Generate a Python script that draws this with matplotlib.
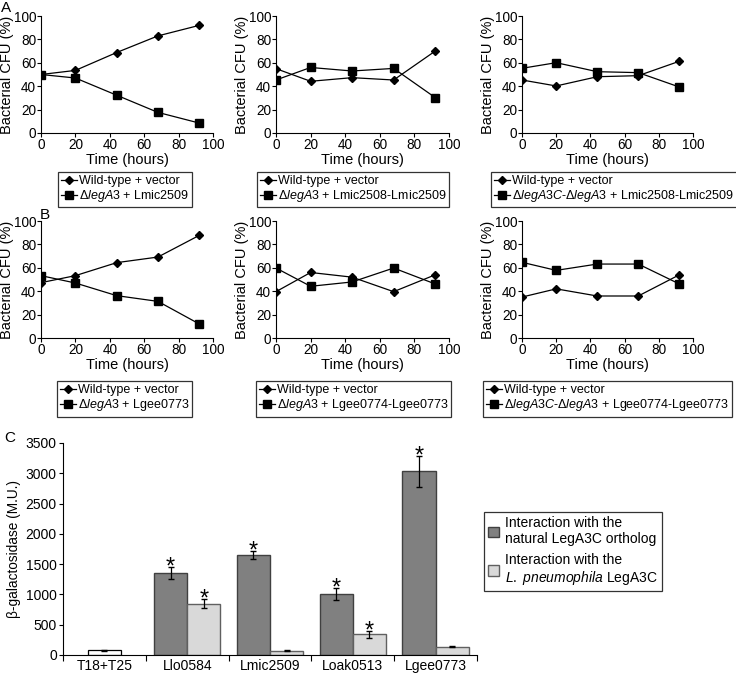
import numpy as np
import matplotlib
matplotlib.use('Agg')
import matplotlib.pyplot as plt
from matplotlib.patches import Patch
from matplotlib.lines import Line2D

plt.rcParams['font.family'] = ['Liberation Sans', 'DejaVu Sans']
plt.rcParams['mathtext.fontset'] = 'custom'
plt.rcParams['mathtext.rm'] = 'Liberation Sans'
plt.rcParams['mathtext.it'] = 'Liberation Sans:italic'

# time points (hours)
hours = [0, 20, 44, 68, 92]

# panel A, wild-type vs mutant (% of CFU)
a_wt = [[50, 53.5, 68.8, 83, 92],
        [55, 44.2, 47.3, 45.3, 70],
        [45.3, 40.2, 48.1, 49, 61.3]]
a_mut = [[50, 47, 32.3, 17.6, 8.5],
         [45.3, 56, 53, 55.2, 30.3],
         [55.3, 60.1, 52.4, 51.6, 39.3]]

# panel B
b_wt = [[47.3, 53.3, 64.4, 69.2, 87.7],
        [39.6, 56, 52, 39.6, 54],
        [35, 42, 35.9, 35.9, 54]]
b_mut = [[53.3, 47, 36.2, 31.3, 12],
         [59.8, 44.2, 47.9, 59.8, 46.2],
         [64.7, 57.8, 63.2, 63.2, 46.2]]

wt_label = 'Wild-type + vector'
a_labels = [r'Δ$\it{legA3}$ + Lmic2509',
            r'Δ$\it{legA3}$ + Lmic2508-Lmic2509',
            r'Δ$\it{legA3C}$-Δ$\it{legA3}$ + Lmic2508-Lmic2509']
b_labels = [r'Δ$\it{legA3}$ + Lgee0773',
            r'Δ$\it{legA3}$ + Lgee0774-Lgee0773',
            r'Δ$\it{legA3C}$-Δ$\it{legA3}$ + Lgee0774-Lgee0773']

# panel C, beta-galactosidase
categories = ['T18+T25', 'Llo0584', 'Lmic2509', 'Loak0513', 'Lgee0773']
natural = [None, 1350, 1650, 1010, 3030]
natural_err = [None, 100, 70, 100, 250]
pneumo = [None, 850, 70, 340, 140]
pneumo_err = [None, 75, 5, 60, 15]
control = 80
control_err = 10
natural_star = [None, True, True, True, True]
pneumo_star = [None, True, False, True, False]

W, H = 736.0, 674.0
fig = plt.figure(figsize=(W / 100, H / 100), dpi=100)


def px_axes(x0, y0, x1, y1):
    # axes from pixel box (top-left origin)
    return fig.add_axes([x0 / W, 1 - y1 / H, (x1 - x0) / W, (y1 - y0) / H])


def style_axes(ax, size=9.8):
    for s in ['top', 'right']:
        ax.spines[s].set_visible(False)
    for s in ['left', 'bottom']:
        ax.spines[s].set_linewidth(0.8)
    ax.tick_params(direction='out', length=3, width=0.8, labelsize=size, pad=0.5)


def time_plot(ax, wt, mut, mut_label, leg_x, leg_y):
    ax.plot(hours, wt, color='black', lw=0.9, marker='D', markersize=3.6)
    ax.plot(hours, mut, color='black', lw=0.9, marker='s', markersize=6)
    ax.set_xlim(0, 100)
    ax.set_ylim(0, 100)
    ax.set_xticks(np.arange(0, 101, 20))
    ax.set_yticks(np.arange(0, 101, 20))
    style_axes(ax)
    ax.set_xlabel('Time (hours)', fontsize=10.5, labelpad=1)
    ax.set_ylabel('Bacterial CFU (%)', fontsize=10.5, labelpad=0)

    # legend box under the axes
    handles = [Line2D([], [], color='black', lw=0.9, marker='D', markersize=3.6),
               Line2D([], [], color='black', lw=0.9, marker='s', markersize=6)]
    leg = ax.legend(handles, [wt_label, mut_label], loc='upper left',
                    bbox_to_anchor=(leg_x / W, 1 - leg_y / H),
                    bbox_transform=fig.transFigure, fontsize=9,
                    frameon=True, fancybox=False, edgecolor='black',
                    borderpad=0.25, labelspacing=0.1, handlelength=1.3,
                    handletextpad=0.1, borderaxespad=0)
    leg.get_frame().set_linewidth(0.9)


col_x = [(41, 213), (276, 449), (522, 693)]
a_leg_x = [58, 257, 491]
b_leg_x = [57, 256, 483]

for i in range(3):
    ax = px_axes(col_x[i][0], 16, col_x[i][1], 133)
    time_plot(ax, a_wt[i], a_mut[i], a_labels[i], a_leg_x[i], 172)
for i in range(3):
    ax = px_axes(col_x[i][0], 221, col_x[i][1], 338)
    time_plot(ax, b_wt[i], b_mut[i], b_labels[i], b_leg_x[i], 381)

# bar chart
ax = px_axes(63, 443, 477, 655)
x = np.arange(len(categories))
bw = 0.4
dark = '#808080'
light = '#d9d9d9'
ax.bar(0, control, width=bw, color='white', edgecolor='black', lw=0.9,
       yerr=control_err, error_kw=dict(lw=0.9, capsize=2))
for i in range(1, len(categories)):
    ax.bar(x[i] - bw / 2, natural[i], width=bw, color=dark, edgecolor='#404040', lw=1,
           yerr=natural_err[i], error_kw=dict(lw=0.9, capsize=2))
    ax.bar(x[i] + bw / 2, pneumo[i], width=bw, color=light, edgecolor='#606060', lw=1,
           yerr=pneumo_err[i], error_kw=dict(lw=0.9, capsize=2))
    # significance stars sit on top of the error bars
    if natural_star[i]:
        ax.text(x[i] - bw / 2, natural[i] + natural_err[i] - 190, '*', ha='center',
                va='bottom', fontsize=17)
    if pneumo_star[i]:
        ax.text(x[i] + bw / 2, pneumo[i] + pneumo_err[i] - 190, '*', ha='center',
                va='bottom', fontsize=17)

ax.set_xlim(-0.5, len(categories) - 0.5)
ax.set_ylim(0, 3500)
ax.set_yticks(np.arange(0, 3501, 500))
ax.set_xticks(np.arange(-0.5, len(categories), 1.0))
ax.set_xticklabels([])
ax.set_xticks(x, minor=True)
ax.set_xticklabels(categories, minor=True)
style_axes(ax, size=10)
ax.tick_params(axis='x', which='minor', length=0, labelsize=10, pad=3)
ax.tick_params(axis='x', which='major', length=4)
ax.tick_params(axis='y', pad=1.5)
ax.set_ylabel('β-galactosidase (M.U.)', fontsize=9.8, labelpad=3)

handles = [Patch(facecolor=dark, edgecolor='#404040', lw=1),
           Patch(facecolor=light, edgecolor='#606060', lw=1)]
leg = ax.legend(handles, ['Interaction with the\nnatural LegA3C ortholog',
                          'Interaction with the\n' + r'$\it{L.\ pneumophila}$ LegA3C'],
                loc='upper left', bbox_to_anchor=(484 / W, 1 - 512 / H),
                bbox_transform=fig.transFigure, fontsize=10, frameon=True,
                fancybox=False, edgecolor='black', handlelength=0.8,
                handleheight=0.8, handletextpad=0.4, labelspacing=0.45,
                borderpad=0.3, borderaxespad=0)
leg.get_frame().set_linewidth(0.9)

# panel letters
fig.text(1 / W, 1 - 1 / H, 'A', fontsize=11, ha='left', va='top')
fig.text(40 / W, 1 - 208 / H, 'B', fontsize=11, ha='left', va='top')
fig.text(4 / W, 1 - 431 / H, 'C', fontsize=11, ha='left', va='top')

fig.savefig('out.png', dpi=100)
